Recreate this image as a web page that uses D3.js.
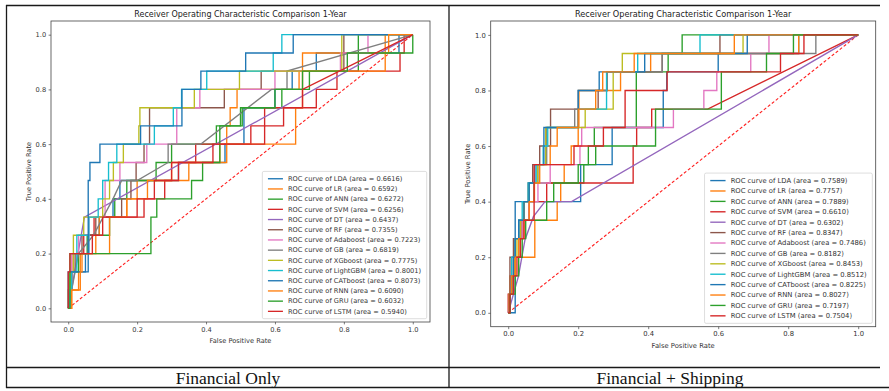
<!DOCTYPE html>
<html>
<head>
<meta charset="utf-8">
<script src="https://cdn.jsdelivr.net/npm/d3@7"></script>
<style>
  body { margin: 0; background: #fff; }
  svg { display: block; }
</style>
</head>
<body>
<svg id="chart" width="889" height="391"></svg>
<script>
// ---- data ----
const models = ["LDA", "LR", "ANN", "SVM", "DT", "RF", "Adaboost", "GB", "XGboost", "LightGBM", "CATboost", "RNN", "GRU", "LSTM"];
const colors = ["#1f77b4", "#ff7f0e", "#2ca02c", "#d62728", "#9467bd", "#8c564b", "#e377c2", "#7f7f7f", "#bcbd22", "#17becf", "#1f77b4", "#ff7f0e", "#2ca02c", "#d62728"];
const aucFinancial = ["0.6616", "0.6592", "0.6272", "0.6256", "0.6437", "0.7355", "0.7223", "0.6819", "0.7775", "0.8001", "0.8073", "0.6090", "0.6032", "0.5940"];
const aucShipping = ["0.7589", "0.7757", "0.7889", "0.6610", "0.6302", "0.8347", "0.7486", "0.8182", "0.8453", "0.8512", "0.8225", "0.8027", "0.7197", "0.7504"];
const captions = ["Financial Only", "Financial + Shipping"];
const ticks = [0, 0.2, 0.4, 0.6, 0.8, 1.0];

// ROC points [fpr, tpr]. Step curves list the top of each vertical jump,
// curves named in the *Linear lists are joined point to point.
const finLDA = [[0,0],[0.005,0.133],[0.05,0.2],[0.06,0.267],[0.09,0.333],[0.13,0.4],[0.15,0.467],[0.32,0.533],[0.455,0.6],[0.51,0.733],[0.6,0.8],[0.65,0.867],[0.72,0.933],[0.96,1],[1,1]];
const finLR = [[0,0],[0.01,0.067],[0.03,0.133],[0.035,0.2],[0.08,0.267],[0.09,0.333],[0.17,0.4],[0.2,0.467],[0.3,0.533],[0.44,0.6],[0.46,0.667],[0.47,0.733],[0.49,0.8],[0.67,0.867],[0.68,0.933],[0.92,1],[1,1]];
const finANN = [[0,0],[0.005,0.067],[0.01,0.133],[0.03,0.2],[0.055,0.267],[0.12,0.333],[0.135,0.4],[0.17,0.467],[0.255,0.533],[0.3,0.6],[0.43,0.667],[0.5,0.733],[0.62,0.8],[0.7,0.867],[0.842,0.933],[0.842,1],[1,1]];
const finSVM = [[0,0],[0.005,0.067],[0.01,0.2],[0.045,0.267],[0.075,0.333],[0.22,0.4],[0.28,0.467],[0.3,0.533],[0.37,0.6],[0.53,0.667],[0.57,0.733],[0.72,0.8],[0.78,0.867],[0.963,0.933],[0.975,1],[1,1]];
const finDT = [[0,0],[0.047,0.333],[1,1]];
const finRF = [[0,0],[0.005,0.067],[0.01,0.133],[0.02,0.2],[0.04,0.267],[0.08,0.333],[0.155,0.4],[0.182,0.467],[0.197,0.533],[0.22,0.6],[0.236,0.733],[0.453,0.8],[0.56,0.867],[0.8,1],[1,1]];
const finAdaboost = [[0,0],[0.005,0.067],[0.01,0.2],[0.03,0.267],[0.06,0.333],[0.107,0.467],[0.15,0.533],[0.228,0.6],[0.315,0.733],[0.382,0.8],[0.6,0.867],[0.79,0.933],[0.87,1],[1,1]];
const finGB = [[0,0],[0.01,0.067],[0.03,0.2],[0.073,0.267],[0.13,0.4],[0.155,0.467],[0.2,0.467],[0.29,0.533],[0.29,0.6],[0.385,0.6],[0.59,0.8],[0.635,0.8],[0.635,0.867],[1,1]];
const finXGboost = [[0,0],[0,0.067],[0.005,0.133],[0.015,0.267],[0.045,0.333],[0.1,0.4],[0.12,0.467],[0.131,0.533],[0.16,0.6],[0.205,0.667],[0.208,0.733],[0.366,0.8],[0.497,0.867],[0.794,1],[1,1]];
const finLightGBM = [[0,0],[0.005,0.067],[0.01,0.133],[0.025,0.267],[0.06,0.333],[0.087,0.4],[0.1,0.467],[0.117,0.533],[0.141,0.6],[0.25,0.667],[0.305,0.733],[0.329,0.8],[0.402,0.867],[0.595,0.933],[0.62,1],[1,1]];
const finCATboost = [[0,0],[0,0.133],[0.058,0.467],[0.063,0.533],[0.092,0.6],[0.21,0.667],[0.33,0.8],[0.385,0.867],[0.515,0.933],[0.653,1],[1,1]];
const finRNN = [[0,0],[0.01,0.067],[0.035,0.133],[0.04,0.2],[0.12,0.333],[0.17,0.4],[0.23,0.467],[0.35,0.533],[0.46,0.6],[0.66,0.733],[0.68,0.867],[0.92,0.933],[0.93,1],[1,1]];
const finGRU = [[0,0],[0.005,0.2],[0.24,0.333],[0.257,0.4],[0.358,0.467],[0.39,0.533],[0.44,0.667],[0.505,0.733],[0.6,0.8],[0.68,0.867],[0.81,0.933],[1,1]];
const finLSTM = [[0,0],[0,0.133],[0.005,0.133],[0.005,0.2],[0.07,0.2],[0.07,0.267],[0.1,0.267],[0.1,0.333],[0.2,0.333],[0.2,0.4],[0.25,0.4],[0.25,0.467],[0.32,0.467],[0.32,0.533],[0.42,0.533],[0.42,0.6],[0.57,0.6],[0.57,0.667],[0.625,0.667],[0.625,0.733],[0.68,0.733],[0.68,0.8],[1,1]];
const finLinear = ["DT", "GB", "LSTM"];

const shipLDA = [[0,0],[0.02,0.4],[0.207,0.533],[0.297,0.667],[0.443,0.8],[0.453,0.867],[0.6,0.933],[0.83,1],[1,1]];
const shipLR = [[0,0],[0.005,0.133],[0.015,0.2],[0.076,0.333],[0.14,0.4],[0.15,0.467],[0.16,0.533],[0.18,0.6],[0.2,0.667],[0.202,0.8],[0.321,0.867],[0.407,0.933],[0.83,1],[1,1]];
const shipANN = [[0,0],[0.005,0.067],[0.01,0.133],[0.02,0.2],[0.03,0.267],[0.04,0.333],[0.06,0.4],[0.074,0.467],[0.216,0.533],[0.229,0.6],[0.246,0.667],[0.366,0.867],[0.457,0.933],[0.497,1],[1,1]];
const shipSVM = [[0,0],[0,0.067],[0.01,0.067],[0.01,0.133],[0.02,0.133],[0.02,0.267],[0.04,0.267],[0.04,0.333],[0.06,0.333],[0.06,0.4],[0.11,0.4],[0.11,0.467],[0.357,0.467],[0.357,0.6],[0.367,0.6],[0.367,0.667],[0.41,0.667],[0.41,0.733],[0.57,0.733],[1,1]];
const shipDT = [[0,0],[0.029,0.13],[0.048,0.263],[0.072,0.346],[0.105,0.4],[0.181,0.4],[1,1]];
const shipRF = [[0,0],[0.003,0.067],[0.005,0.2],[0.015,0.267],[0.03,0.333],[0.045,0.4],[0.057,0.467],[0.07,0.533],[0.09,0.6],[0.121,0.733],[0.257,0.8],[0.283,0.867],[0.44,0.933],[0.605,1],[1,1]];
const shipAdaboost = [[0,0],[0.005,0.067],[0.01,0.133],[0.02,0.2],[0.03,0.267],[0.04,0.333],[0.06,0.4],[0.085,0.467],[0.12,0.533],[0.205,0.6],[0.21,0.667],[0.472,0.733],[0.559,0.8],[0.596,0.867],[0.693,0.933],[0.745,1],[1,1]];
const shipGB = [[0,0],[0.003,0.067],[0.008,0.133],[0.015,0.2],[0.02,0.267],[0.03,0.333],[0.045,0.4],[0.06,0.467],[0.085,0.533],[0.11,0.667],[0.19,0.733],[0.2,0.8],[0.283,0.867],[0.44,0.933],[0.879,1],[1,1]];
const shipXGboost = [[0,0],[0.005,0.067],[0.01,0.133],[0.02,0.2],[0.025,0.267],[0.035,0.333],[0.045,0.4],[0.06,0.467],[0.084,0.533],[0.107,0.667],[0.22,0.733],[0.3,0.867],[0.326,0.933],[0.671,1],[1,1]];
const shipLightGBM = [[0,0],[0.005,0.067],[0.01,0.2],[0.02,0.267],[0.03,0.333],[0.04,0.4],[0.057,0.467],[0.08,0.533],[0.1,0.6],[0.113,0.667],[0.2,0.733],[0.281,0.867],[0.37,0.933],[0.548,1],[1,1]];
const shipCATboost = [[0,0],[0.005,0.067],[0.01,0.133],[0.015,0.2],[0.02,0.267],[0.03,0.333],[0.045,0.4],[0.06,0.467],[0.076,0.533],[0.102,0.667],[0.2,0.8],[0.26,0.867],[0.39,0.933],[0.683,1],[1,1]];
const shipRNN = [[0,0],[0.003,0.067],[0.01,0.133],[0.02,0.2],[0.03,0.267],[0.045,0.333],[0.06,0.4],[0.075,0.467],[0.09,0.533],[0.12,0.6],[0.14,0.667],[0.2,0.733],[0.25,0.8],[0.27,0.867],[0.36,0.933],[0.646,1],[1,1]];
const shipGRU = [[0,0],[0.005,0.067],[0.02,0.133],[0.03,0.2],[0.04,0.267],[0.05,0.333],[0.11,0.4],[0.13,0.467],[0.2,0.533],[0.25,0.6],[0.421,0.733],[0.609,0.867],[0.738,0.933],[0.815,1],[1,1]];
const shipLSTM = [[0,0],[0.005,0.067],[0.015,0.133],[0.025,0.2],[0.035,0.267],[0.045,0.333],[0.074,0.533],[0.188,0.6],[0.272,0.667],[0.334,0.8],[0.454,0.867],[0.778,0.933],[0.845,1],[1,1]];
const shipLinear = ["SVM", "DT"];

const finCurves = [finLDA, finLR, finANN, finSVM, finDT, finRF, finAdaboost, finGB, finXGboost, finLightGBM, finCATboost, finRNN, finGRU, finLSTM];
const shipCurves = [shipLDA, shipLR, shipANN, shipSVM, shipDT, shipRF, shipAdaboost, shipGB, shipXGboost, shipLightGBM, shipCATboost, shipRNN, shipGRU, shipLSTM];

// ---- drawing ----
const svg = d3.select("#chart");
const FONT = "DejaVu Sans, sans-serif";

// table around the two figures
const table = svg.append("g").attr("stroke", "#1a1a1a").attr("stroke-width", 1.3);
[[6, 5.5, 880, 5.5], [6.5, 5, 6.5, 388], [449, 5, 449, 388], [6, 367.5, 880, 367.5], [6, 387.5, 889, 387.5]]
  .forEach(l => table.append("line").attr("x1", l[0]).attr("y1", l[1]).attr("x2", l[2]).attr("y2", l[3]));

svg.selectAll("text.caption")
  .data(captions)
  .enter()
  .append("text")
  .attr("class", "caption")
  .attr("x", (d, i) => i === 0 ? 228 : 670)
  .attr("y", 384)
  .attr("text-anchor", "middle")
  .attr("font-family", "Liberation Serif, Times New Roman, serif")
  .attr("font-size", 17.5)
  .attr("fill", "#111")
  .text(d => d);

function drawPanel(p) {
  const s = p.s;
  const fs = 6.67 * s;
  const g = svg.append("g");

  const x = d3.scaleLinear().domain([-0.05, 1.05]).range([p.left, p.right]);
  const y = d3.scaleLinear().domain([-0.05, 1.05]).range([p.bottom, p.top]);

  const clipId = "clip" + p.id;
  svg.append("clipPath").attr("id", clipId)
    .append("rect").attr("x", p.left).attr("y", p.top)
    .attr("width", p.right - p.left).attr("height", p.bottom - p.top);

  const plot = g.append("g").attr("clip-path", `url(#${clipId})`);

  // chance line
  plot.append("path")
    .datum([[0, 0], [1, 1]])
    .attr("d", d3.line().x(d => x(d[0])).y(d => y(d[1])))
    .attr("fill", "none")
    .attr("stroke", "#ff2020")
    .attr("stroke-width", 1.1 * s)
    .attr("stroke-dasharray", `${3 * s},${2 * s}`);

  const stepLine = d3.line().x(d => x(d[0])).y(d => y(d[1])).curve(d3.curveStepAfter);
  const straightLine = d3.line().x(d => x(d[0])).y(d => y(d[1]));

  plot.selectAll("path.roc")
    .data(p.curves)
    .enter()
    .append("path")
    .attr("class", "roc")
    .attr("d", (d, i) => p.linear.includes(models[i]) ? straightLine(d) : stepLine(d))
    .attr("fill", "none")
    .attr("stroke", (d, i) => colors[i])
    .attr("stroke-width", 1.35 * s)
    .attr("stroke-linejoin", "miter");

  // axes
  const xAxis = d3.axisBottom(x).tickValues(ticks).tickFormat(d3.format(".1f")).tickSize(2.4 * s).tickPadding(2.4 * s);
  const yAxis = d3.axisLeft(y).tickValues(ticks).tickFormat(d3.format(".1f")).tickSize(2.4 * s).tickPadding(2.4 * s);

  const gx = g.append("g").attr("transform", `translate(0,${p.bottom})`).call(xAxis);
  const gy = g.append("g").attr("transform", `translate(${p.left},0)`).call(yAxis);
  [gx, gy].forEach(a => {
    a.select(".domain").remove();
    a.selectAll("line").attr("stroke", "#444").attr("stroke-width", 0.7);
    a.selectAll("text").attr("font-family", FONT).attr("font-size", fs).attr("fill", "#333");
  });

  g.append("rect")
    .attr("x", p.left).attr("y", p.top)
    .attr("width", p.right - p.left).attr("height", p.bottom - p.top)
    .attr("fill", "none").attr("stroke", "#444").attr("stroke-width", 0.8);

  g.append("text")
    .attr("x", (p.left + p.right) / 2).attr("y", p.top - 4 * s)
    .attr("text-anchor", "middle")
    .attr("font-family", FONT).attr("font-size", 8 * s).attr("fill", "#222")
    .text("Receiver Operating Characteristic Comparison 1-Year");

  g.append("text")
    .attr("x", (p.left + p.right) / 2).attr("y", p.xLabelY)
    .attr("text-anchor", "middle")
    .attr("font-family", FONT).attr("font-size", fs).attr("fill", "#333")
    .text("False Positive Rate");

  g.append("text")
    .attr("transform", `translate(${p.yLabelX},${(p.top + p.bottom) / 2}) rotate(-90)`)
    .attr("text-anchor", "middle")
    .attr("dy", "0.35em")
    .attr("font-family", FONT).attr("font-size", fs).attr("fill", "#333")
    .text("True Positive Rate");

  // legend
  const rowH = 10.2 * s;
  const leg = g.append("g");
  const box = leg.append("rect")
    .attr("fill", "#fff").attr("fill-opacity", 0.8)
    .attr("stroke", "#d0d0d0").attr("stroke-width", 0.7)
    .attr("rx", 1.5 * s);

  const rows = leg.selectAll("g.row")
    .data(models)
    .enter()
    .append("g")
    .attr("class", "row");

  const labels = rows.append("text")
    .attr("font-family", FONT).attr("font-size", fs).attr("fill", "#333")
    .attr("dy", "0.35em")
    .text((d, i) => `ROC curve of ${d} (area = ${p.auc[i]})`);

  let maxW = 0;
  labels.each(function () { maxW = Math.max(maxW, this.getComputedTextLength()); });
  const boxW = 25.6 * s + maxW + 5.5 * s;
  const boxH = models.length * rowH + 4.5 * s;
  const bx = p.right - 3.3 * s - boxW;
  const by = p.bottom - 3.3 * s - boxH;
  box.attr("x", bx).attr("y", by).attr("width", boxW).attr("height", boxH);

  rows.attr("transform", (d, i) => `translate(${bx},${by + 2.25 * s + rowH / 2 + i * rowH})`);
  rows.append("line")
    .attr("x1", 5.6 * s).attr("x2", 20.6 * s)
    .attr("stroke", (d, i) => colors[i])
    .attr("stroke-width", 1.35 * s);
  labels.attr("x", 25.6 * s);
}

drawPanel({ id: "fin", left: 51, right: 430, top: 21, bottom: 322, s: 1,
  curves: finCurves, auc: aucFinancial, linear: finLinear, xLabelY: 342.5, yLabelX: 29 });
drawPanel({ id: "ship", left: 490.7, right: 875.7, top: 21, bottom: 326.7, s: 1.02,
  curves: shipCurves, auc: aucShipping, linear: shipLinear, xLabelY: 348, yLabelX: 467.5 });
</script>
</body>
</html>
